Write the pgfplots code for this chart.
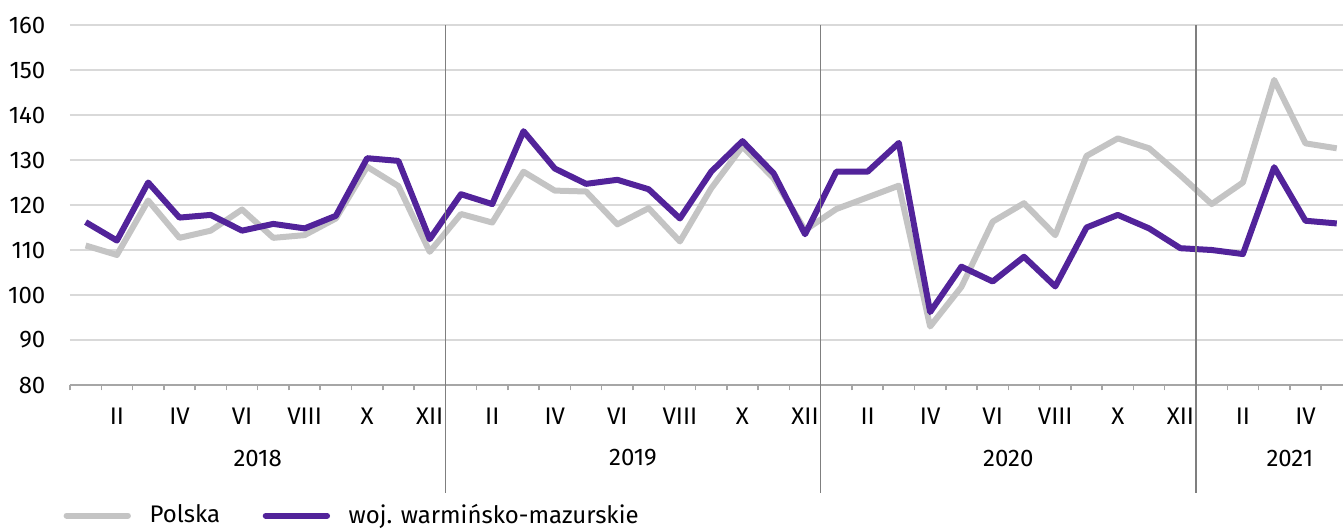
\documentclass[border=0pt]{standalone}
\usepackage{fontspec}
\setmainfont{Fira Sans}
\usepackage{pgfplots}
\usepackage{pgfplotstable}
\pgfplotsset{compat=1.18}
\definecolor{Lilac}{HTML}{52239A}
\definecolor{Ash}{HTML}{C4C4C4}
\definecolor{GridGray}{HTML}{D9D9D9}
\definecolor{AxisGray}{HTML}{A6A6A6}
\definecolor{SepGray}{HTML}{7F7F7F}

% month index (0 = I 2018), Polska, woj. warminsko-mazurskie
\pgfplotstableread{
m pl wm
0 111.0 116.2
1 108.9 112.1
2 121.0 125.0
3 112.7 117.2
4 114.3 117.8
5 119.0 114.3
6 112.7 115.8
7 113.3 114.8
8 117.0 117.6
9 128.5 130.4
10 124.2 129.8
11 109.6 112.4
12 118.0 122.4
13 116.1 120.2
14 127.4 136.4
15 123.2 128.1
16 123.0 124.7
17 115.7 125.6
18 119.3 123.5
19 111.9 117.0
20 123.7 127.4
21 133.0 134.2
22 125.9 127.0
23 114.4 113.5
24 119.1 127.4
25 121.7 127.4
26 124.3 133.8
27 93.0 96.2
28 101.8 106.3
29 116.3 103.0
30 120.4 108.5
31 113.3 101.9
32 130.9 115.0
33 134.8 117.8
34 132.6 114.8
35 126.6 110.4
36 120.2 110.0
37 125.0 109.1
38 147.8 128.4
39 133.7 116.5
40 132.6 115.9
}\datatable

\begin{document}
\fontsize{18pt}{21pt}\selectfont
\begin{tikzpicture}
\begin{axis}[
    width=954.75pt, height=270pt, scale only axis,
    xmin=-0.5, xmax=40.2, ymin=80, ymax=160,
    clip=false,
    axis x line*=bottom, axis y line*=left,
    y axis line style={draw=none},
    x axis line style={draw=AxisGray, line width=1.1pt},
    ytick={80,90,...,160},
    ymajorgrids,
    grid style={draw=GridGray, line width=1.1pt},
    ytick style={draw=none},
    xtick={1,3,...,39},
    xticklabels={II,IV,VI,VIII,X,XII,II,IV,VI,VIII,X,XII,II,IV,VI,VIII,X,XII,II,IV},
    major x tick style={draw=none},
    minor xtick={-0.5,0.5,...,39.5},
    minor x tick style={draw=AxisGray, line width=1.1pt},
    minor tick length=4pt,
    tick align=outside,
    /pgf/number format/assume math mode=true,
    ticklabel style={font=\fontsize{18pt}{21pt}\selectfont},
    yticklabel style={xshift=-8pt},
    xticklabel style={yshift=-7pt},
    legend style={at={(axis description cs:0,0)}, anchor=west,
        xshift=-8pt, yshift=-98pt, draw=none, fill=none,
        legend columns=2, legend cell align=left,
        font=\fontsize{18pt}{21pt}\selectfont,
        /tikz/every even column/.append style={column sep=30pt}},
    legend image code/.code={\draw[#1, line cap=round] (0pt,0pt) -- (46pt,0pt);
        \path (58pt,0pt);},
]
\addplot[Ash, line width=4.5pt, line join=round] table[x=m, y=pl] {\datatable};
\addlegendentry{Polska}
\addplot[Lilac, line width=4.5pt, line join=round] table[x=m, y=wm] {\datatable};
\addlegendentry{woj. warmińsko-mazurskie}

\foreach \s in {11.5,23.5,35.5} {
    \edef\temp{\noexpand\draw[SepGray, line width=0.8pt] (axis cs:\s,160) -- ([yshift=-81pt]axis cs:\s,80);}
    \temp
}
\node at ([yshift=-54.75pt]axis cs:5.5,80) {2018};
\node at ([yshift=-54.75pt]axis cs:17.5,80) {2019};
\node at ([yshift=-54.75pt]axis cs:29.5,80) {2020};
\node at ([yshift=-54.75pt]axis cs:38.5,80) {2021};

\coordinate (sw) at (rel axis cs:0,0);
\coordinate (ne) at (rel axis cs:1,1);
\end{axis}
\pgfresetboundingbox
\path[use as bounding box] ([xshift=-52.5pt,yshift=-109.5pt]sw) rectangle ([yshift=18.75pt]ne);
\end{tikzpicture}
\end{document}
